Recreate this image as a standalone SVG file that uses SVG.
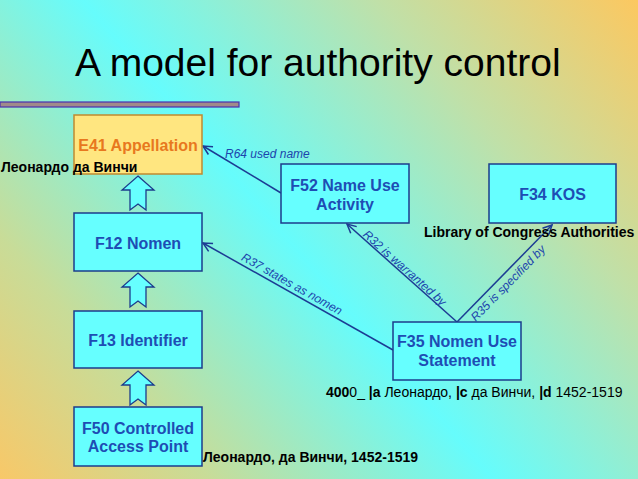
<svg xmlns="http://www.w3.org/2000/svg" width="638" height="479" viewBox="0 0 638 479">
<defs>
<linearGradient id="bg" gradientUnits="userSpaceOnUse" x1="0" y1="479" x2="605" y2="-39">
<stop offset="0" stop-color="#f8c868"/>
<stop offset="0.2" stop-color="#c8dc98"/>
<stop offset="0.47" stop-color="#66fcfc"/>
<stop offset="0.75" stop-color="#c0e0a8"/>
<stop offset="1" stop-color="#fcc860"/>
</linearGradient>
<marker id="arr" markerUnits="userSpaceOnUse" markerWidth="14" markerHeight="12" viewBox="-11 -6 13 12" refX="0" refY="0" orient="auto">
<path d="M-9,-4.5 L0,0 L-9,4.5" fill="none" stroke="#1c3c94" stroke-width="1.5"/>
</marker>
</defs>
<style>
.box{fill:#66ffff;stroke:#1c3c8c;stroke-width:1.5}
.nt{font-family:"Liberation Sans",Arial,sans-serif;font-weight:bold;font-size:16px;fill:#1e4db4;text-anchor:middle}
.hol{fill:#66ffff;stroke:#1c3c8c;stroke-width:1.3}
.con{stroke:#1c3c94;stroke-width:1.5;fill:none}
.rl{font-family:"Liberation Sans",Arial,sans-serif;font-style:italic;font-size:12px;fill:#1c45ad}
.bl{font-family:"Liberation Sans",Arial,sans-serif;font-weight:bold;font-size:14px;fill:#000}
.nb{font-weight:normal}
</style>
<rect x="0" y="0" width="638" height="479" fill="url(#bg)"/>
<text x="75" y="76" font-family="'Liberation Sans',Arial,sans-serif" font-size="39" fill="#000">A model for authority control</text>
<rect x="0" y="102" width="239" height="5" fill="#a08a8a" stroke="#4a30b0" stroke-width="1.2"/>

<g id="connectors">
<line class="con" x1="281" y1="193" x2="203" y2="146" marker-end="url(#arr)"/>
<line class="con" x1="393" y1="350" x2="203" y2="243" marker-end="url(#arr)"/>
<line class="con" x1="457" y1="322" x2="347" y2="224" marker-end="url(#arr)"/>
<line class="con" x1="457" y1="322" x2="552" y2="225" marker-end="url(#arr)"/>
<text class="rl" x="225" y="158">R64 used name</text>
<text class="rl" x="290" y="287.5" text-anchor="middle" transform="rotate(29.4 290 287.5)">R37 states as nomen</text>
<text class="rl" x="402" y="271" text-anchor="middle" transform="rotate(41.7 402 271)">R32 is warranted by</text>
<text class="rl" x="511" y="286" text-anchor="middle" transform="rotate(-45.6 511 286)">R35 is specified by</text>
<polygon class="hol" points="138,176 154,190 146,190 146,210 138,204 130,210 130,190 122,190"/>
<polygon class="hol" points="138,273 154,287 146,287 146,307 138,301 130,307 130,287 122,287"/>
<polygon class="hol" points="138,371 154,385 146,385 146,405 138,399 130,405 130,385 122,385"/>
</g>

<g id="E41">
<rect x="74" y="115" width="128" height="59" fill="#ffe680" stroke="#c08a30" stroke-width="1.5"/>
<text class="nt" x="138" y="151" style="fill:#e8781e">E41 Appellation</text>
</g>
<g id="F12">
<rect class="box" x="74" y="213" width="128" height="58"/>
<text class="nt" x="138" y="249">F12 Nomen</text>
</g>
<g id="F13">
<rect class="box" x="74" y="311" width="128" height="57"/>
<text class="nt" x="138" y="346">F13 Identifier</text>
</g>
<g id="F50">
<rect class="box" x="74" y="407" width="128" height="59"/>
<text class="nt" x="138" y="434">F50 Controlled</text>
<text class="nt" x="138" y="452">Access Point</text>
</g>
<g id="F52">
<rect class="box" x="281" y="164" width="128" height="59"/>
<text class="nt" x="345" y="191">F52 Name Use</text>
<text class="nt" x="345" y="210">Activity</text>
</g>
<g id="F34">
<rect class="box" x="489" y="164" width="127" height="59"/>
<text class="nt" x="552.5" y="200">F34 KOS</text>
</g>
<g id="F35">
<rect class="box" x="393" y="322" width="128" height="58"/>
<text class="nt" x="457" y="347">F35 Nomen Use</text>
<text class="nt" x="457" y="366">Statement</text>
</g>

<text class="bl" x="1" y="172">Леонардо да Винчи</text>
<text class="bl" x="424" y="237">Library of Congress Authorities</text>
<text class="bl" x="326" y="397">400<tspan class="nb">0_  </tspan>|a<tspan class="nb"> Леонардо, </tspan>|c<tspan class="nb"> да Винчи, </tspan>|d<tspan class="nb"> 1452-1519</tspan></text>
<text class="bl" x="203" y="462">Леонардо, да Винчи, 1452-1519</text>
</svg>
